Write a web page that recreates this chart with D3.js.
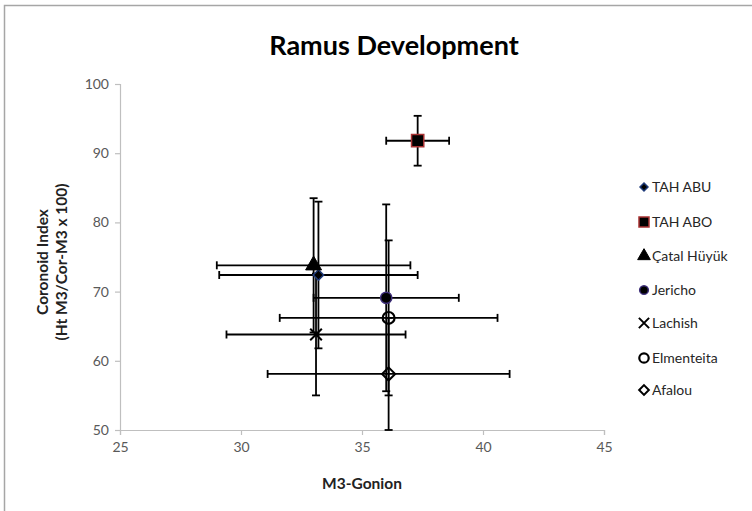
<!DOCTYPE html>
<html><head><meta charset="utf-8">
<script src="https://cdn.jsdelivr.net/npm/d3@7"></script>
<style>html,body{margin:0;padding:0;background:#fff;}svg{display:block;}</style>
</head><body>
<script>
const seriesNames = ["TAH ABU","TAH ABO","Çatal Hüyük","Jericho","Lachish","Elmenteita","Afalou"];
const xValues = [33.2, 37.3, 33.0, 36.0, 33.1, 36.1, 36.1];
const yValues = [72.4, 91.8, 73.8, 69.1, 63.8, 66.2, 58.1];
const xErrors = [4.1, 1.3, 4.0, 3.0, 3.7, 4.5, 5.0];
const yErrors = [10.6, 3.6, 9.7, 13.5, 8.8, 11.2, 8.1];
const xTicks = [25, 30, 35, 40, 45];
const yTicks = [50, 60, 70, 80, 90, 100];

const W = 752, H = 511;
const font = "Lato, 'Open Sans', sans-serif";
const svg = d3.select("body").append("svg").attr("width", W).attr("height", H);

svg.append("rect").attr("x", 4.5).attr("y", 5.5).attr("width", 800).attr("height", 600)
  .attr("fill", "#fff").attr("stroke", "#a6a6a6").attr("stroke-width", 1.5);

const x = d3.scaleLinear().domain([25, 45]).range([120, 604]);
const y = d3.scaleLinear().domain([50, 100]).range([430, 84]);

svg.append("text").attr("x", 394).attr("y", 55).attr("text-anchor", "middle")
  .attr("font-family", font).attr("font-weight", "bold").attr("font-size", 27)
  .attr("fill", "#000").text("Ramus Development");

const xAxis = svg.append("g").attr("transform", "translate(0,430)")
  .call(d3.axisBottom(x).tickValues(xTicks).tickSize(5).tickPadding(7));
const yAxis = svg.append("g").attr("transform", "translate(120,0)")
  .call(d3.axisLeft(y).tickValues(yTicks).tickSize(5).tickPadding(6));
[xAxis, yAxis].forEach(g => {
  g.select(".domain").attr("stroke", "#bfbfbf").attr("stroke-width", 1.2);
  g.selectAll(".tick line").attr("stroke", "#bfbfbf").attr("stroke-width", 1.2);
  g.selectAll(".tick text").attr("font-family", font).attr("font-size", 14).attr("fill", "#595959");
});

svg.append("text").attr("x", 362).attr("y", 489).attr("text-anchor", "middle")
  .attr("font-family", font).attr("font-weight", "bold").attr("font-size", 15.5).attr("fill", "#222")
  .text("M3-Gonion");
const yt = svg.append("text").attr("transform", "translate(48,262) rotate(-90)")
  .attr("text-anchor", "middle").attr("font-family", font).attr("font-weight", "bold")
  .attr("font-size", 15.5).attr("fill", "#222");
yt.append("tspan").attr("x", 0).attr("y", 0).text("Coronoid Index");
yt.append("tspan").attr("x", 0).attr("y", 19).text("(Ht M3/Cor-M3 x 100)");

const data = seriesNames.map((n, i) => ({name: n, x: xValues[i], y: yValues[i], ex: xErrors[i], ey: yErrors[i], i}));

const styles = [
  {type: d3.symbolDiamond2, size: 70, fill: "#000", stroke: "#1f3b7a", sw: 1.5, lsize: 40},
  {type: d3.symbolSquare, size: 150, fill: "#000", stroke: "#a83232", sw: 1.5, lsize: 100},
  {type: d3.symbolTriangle, size: 110, fill: "#000", stroke: "#000", sw: 1, lsize: 70},
  {type: d3.symbolCircle, size: 100, fill: "#000", stroke: "#3e2f7a", sw: 1.5, lsize: 60},
  {type: d3.symbolTimes, size: 90, fill: "none", stroke: "#000", sw: 2, lsize: 70},
  {type: d3.symbolCircle, size: 110, fill: "none", stroke: "#000", sw: 2.2, lsize: 70},
  {type: d3.symbolDiamond2, size: 110, fill: "none", stroke: "#000", sw: 2, lsize: 60}
];

const cap = 4;
const eb = svg.append("g").attr("stroke", "#000").attr("stroke-width", 1.8).attr("fill", "none");
data.forEach(d => {
  const g = eb.append("g");
  const cx = x(d.x), cy = y(d.y);
  const x0 = x(d.x - d.ex), x1 = x(d.x + d.ex), y0 = y(d.y - d.ey), y1 = y(d.y + d.ey);
  g.append("line").attr("x1", x0).attr("x2", x1).attr("y1", cy).attr("y2", cy);
  g.append("line").attr("x1", x0).attr("x2", x0).attr("y1", cy - cap).attr("y2", cy + cap);
  g.append("line").attr("x1", x1).attr("x2", x1).attr("y1", cy - cap).attr("y2", cy + cap);
  g.append("line").attr("x1", cx).attr("x2", cx).attr("y1", y0).attr("y2", y1);
  g.append("line").attr("x1", cx - cap).attr("x2", cx + cap).attr("y1", y0).attr("y2", y0);
  g.append("line").attr("x1", cx - cap).attr("x2", cx + cap).attr("y1", y1).attr("y2", y1);
});

svg.append("g").selectAll("path").data(data).join("path")
  .attr("transform", d => `translate(${x(d.x)},${y(d.y)})`)
  .attr("d", d => d3.symbol().type(styles[d.i].type).size(styles[d.i].size)())
  .attr("fill", d => styles[d.i].fill).attr("stroke", d => styles[d.i].stroke)
  .attr("stroke-width", d => styles[d.i].sw);

const legendY = [187, 222, 256, 290, 323, 358, 390];
const lg = svg.append("g");
data.forEach((d, i) => {
  const s = styles[i];
  lg.append("path").attr("transform", `translate(644,${legendY[i]})`)
    .attr("d", d3.symbol().type(s.type).size(s.lsize)())
    .attr("fill", s.fill).attr("stroke", s.stroke).attr("stroke-width", s.sw);
  lg.append("text").attr("x", 652).attr("y", legendY[i]).attr("dy", "0.35em")
    .attr("font-family", font).attr("font-size", 14).attr("fill", "#262626").text(d.name);
});
</script>
</body></html>
